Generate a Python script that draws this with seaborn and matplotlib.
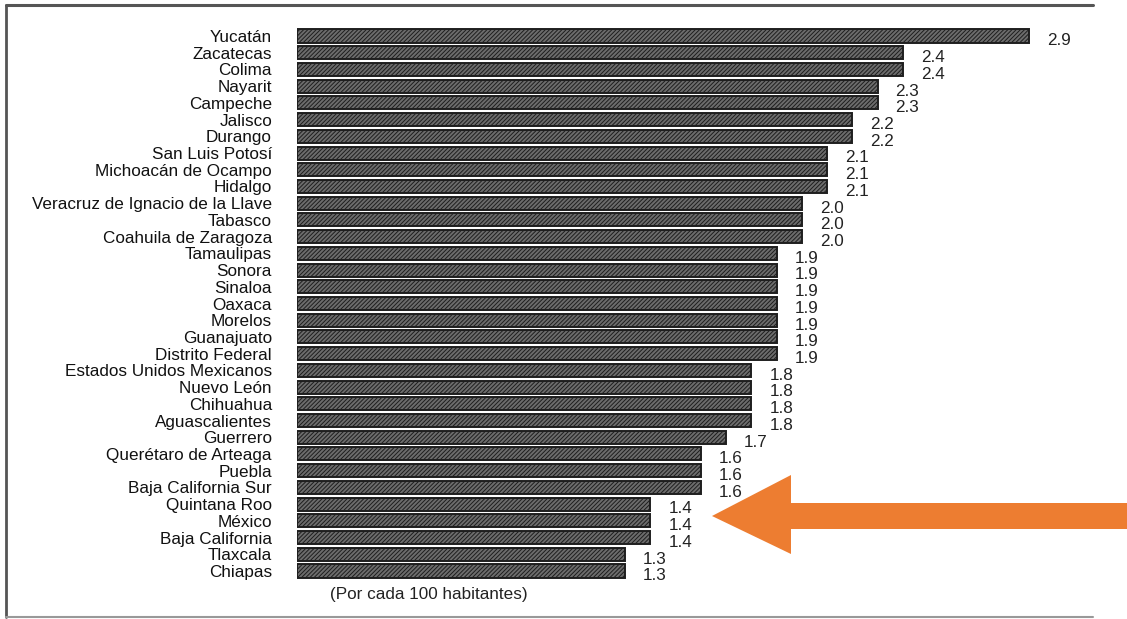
import matplotlib
matplotlib.use("Agg")
import matplotlib.pyplot as plt
from matplotlib.patches import Polygon
from matplotlib.lines import Line2D
import seaborn as sns
import pandas as pd

estados = [
    "Yucatán", "Zacatecas", "Colima", "Nayarit", "Campeche", "Jalisco", "Durango",
    "San Luis Potosí", "Michoacán de Ocampo", "Hidalgo",
    "Veracruz de Ignacio de la Llave", "Tabasco", "Coahuila de Zaragoza",
    "Tamaulipas", "Sonora", "Sinaloa", "Oaxaca", "Morelos", "Guanajuato",
    "Distrito Federal", "Estados Unidos Mexicanos", "Nuevo León", "Chihuahua",
    "Aguascalientes", "Guerrero", "Querétaro de Arteaga", "Puebla",
    "Baja California Sur", "Quintana Roo", "México", "Baja California",
    "Tlaxcala", "Chiapas",
]
tasas = [
    2.9, 2.4, 2.4, 2.3, 2.3, 2.2, 2.2, 2.1, 2.1, 2.1,
    2.0, 2.0, 2.0, 1.9, 1.9, 1.9, 1.9, 1.9, 1.9, 1.9,
    1.8, 1.8, 1.8, 1.8, 1.7, 1.6, 1.6, 1.6, 1.4, 1.4, 1.4,
    1.3, 1.3,
]
nota = "(Por cada 100 habitantes)"

df = pd.DataFrame({"estado": estados, "tasa": tasas})

sns.set_theme(style="white")
plt.rcParams["font.family"] = ["Liberation Sans", "DejaVu Sans"]
plt.rcParams["hatch.linewidth"] = 0.7

FS = 12.3
W, H = 1127, 619
fig = plt.figure(figsize=(W / 100, H / 100), dpi=100)
fig.patch.set_facecolor("white")

n = len(estados)
row_px = (571 - 36) / (n - 1)
top_px = 36 - row_px / 2
bot_px = 571 + row_px / 2
x0_px = 297
unit_px = (1029 - 297) / 2.9
xmax = 3.3
ax = fig.add_axes([x0_px / W, 1 - bot_px / H, xmax * unit_px / W, (bot_px - top_px) / H])

sns.barplot(data=df, x="tasa", y="estado", orient="h", ax=ax, width=0.78,
            color="#5a5a5a", saturation=1)

for p in ax.patches:
    p.set_facecolor("#6c6c6c")
    p.set_edgecolor("#1e1e1e")
    p.set_hatch("////////")
    p.set_linewidth(1.4)

ax.set_xlim(0, xmax)
ax.set_ylim(n - 0.5, -0.5)
ax.set_xlabel("")
ax.set_ylabel("")
ax.set_xticks([])
for s in ax.spines.values():
    s.set_visible(False)
ax.tick_params(axis="y", length=0, pad=18, labelsize=FS, labelcolor="#111111")

for i, v in enumerate(tasas):
    ax.annotate(f"{v:.1f}", xy=(v, i), xytext=(13, -3.5), textcoords="offset points",
                ha="left", va="center", fontsize=FS, color="#222222")

ax.text(330 / W, 1 - 595 / H, nota, transform=fig.transFigure, ha="left",
        va="center", fontsize=FS, color="#222222")

# frame around the panel (open on the right side)
def fx(px):
    return px / W

def fy(py):
    return 1 - py / H

fig.add_artist(Line2D([fx(6), fx(1093)], [fy(5), fy(5)], transform=fig.transFigure,
                      color="#555555", lw=2.2))
fig.add_artist(Line2D([fx(6), fx(6)], [fy(5), fy(617)], transform=fig.transFigure,
                      color="#555555", lw=2.0))
fig.add_artist(Line2D([fx(6), fx(1093)], [fy(617), fy(617)], transform=fig.transFigure,
                      color="#999999", lw=1.5))

# orange arrow pointing at the México row
pts = [(712, 516), (791, 475), (791, 503), (1127, 503), (1127, 529), (791, 529), (791, 554)]
arrow = Polygon([(fx(x), fy(y)) for x, y in pts], closed=True, transform=fig.transFigure,
                facecolor="#ED7D31", edgecolor="none")
fig.add_artist(arrow)

fig.savefig("out.png", dpi=100)
